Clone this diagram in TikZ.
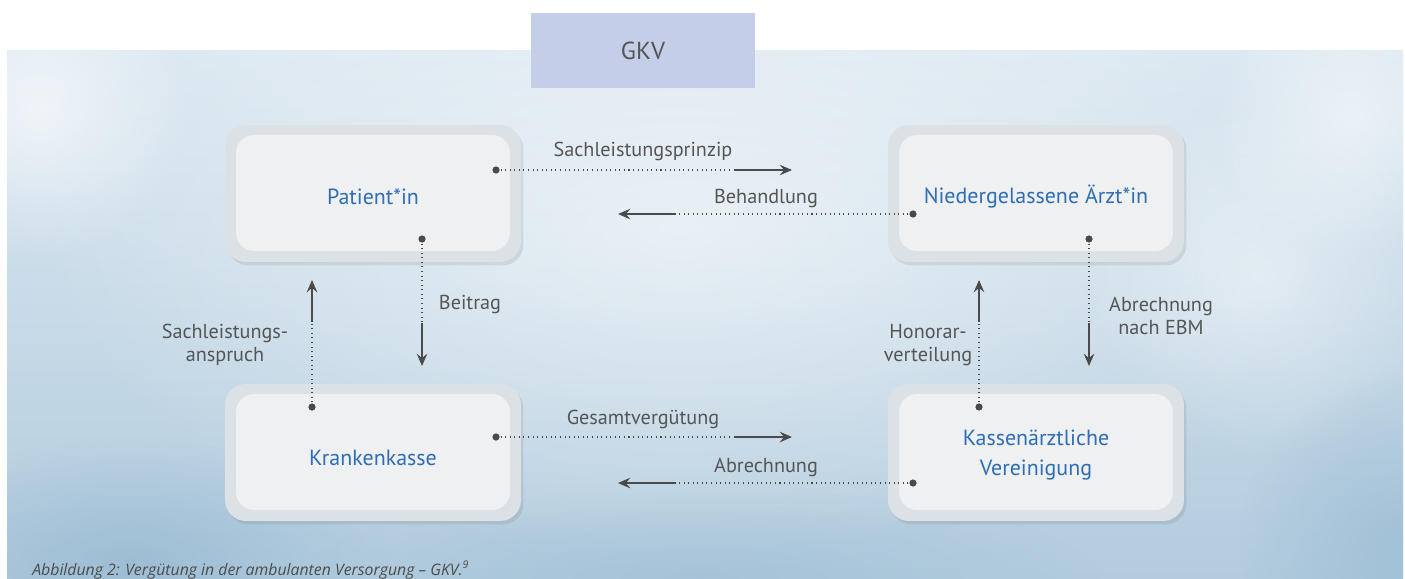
\documentclass[tikz,border=0pt]{standalone}
\usepackage{fontspec}
\setmainfont{PT Sans}
\newfontfamily\capfont{Open Sans}
\usetikzlibrary{arrows.meta,shadows,fadings}
\definecolor{bgtop}{HTML}{DCE8F1}
\definecolor{bgbot}{HTML}{B2CCDE}
\definecolor{gkvfill}{HTML}{C5CEE9}
\definecolor{outerbox}{HTML}{DCE1E6}
\definecolor{innerbox}{HTML}{EEF0F2}
\definecolor{nodeblue}{HTML}{2F6DB5}
\definecolor{labelgray}{HTML}{555555}
\definecolor{arrowgray}{HTML}{4A4A4A}
\definecolor{deepblue}{HTML}{8FB3CD}
\tikzfading[name=softglow, inner color=transparent!0, outer color=transparent!100]
\tikzset{
  outerrect/.style={draw=none, fill=outerbox, rounded corners=0.42cm,
     minimum width=5.92cm, minimum height=2.74cm, inner sep=0pt,
     drop shadow={shadow xshift=0.05cm, shadow yshift=-0.07cm, opacity=0.15, fill=black!60}},
  innerrect/.style={draw=none, fill=innerbox, rounded corners=0.36cm,
     minimum width=5.48cm, minimum height=2.32cm, inner sep=0pt},
  nodetext/.style={inner sep=0pt, font=\fontsize{12.5}{17}\selectfont, text=nodeblue, align=center},
  lbl/.style={font=\fontsize{11.5}{13}\selectfont, text=labelgray, align=center, inner sep=0pt},
  dotline/.style={draw=arrowgray, line width=0.6pt, dotted},
  solidarrow/.style={draw=arrowgray, line width=1.1pt, -{Stealth[length=7pt,width=6pt,inset=2.5pt]}},
  dotmark/.style={fill=arrowgray},
  glow/.style={path fading=softglow}
}
\begin{document}
\begin{tikzpicture}[x=0.02cm,y=-0.02cm]
\useasboundingbox (0,0) rectangle (1405,578);
% background
\fill[white] (0,0) rectangle (1405,578);
\shade[top color=bgtop, bottom color=bgbot] (7,50) rectangle (1403,578);
\begin{scope}
\clip (7,50) rectangle (1403,578);
\fill[white, opacity=0.55, glow] (680,230) ellipse (650 and 330);
\fill[white, opacity=0.6, glow] (40,110) circle (150);
\fill[white, opacity=0.45, glow] (1260,280) circle (180);
\fill[white, opacity=0.5, glow] (1350,120) circle (140);
\fill[deepblue, opacity=0.6, glow] (130,560) ellipse (260 and 120);
\fill[deepblue, opacity=0.5, glow] (1400,540) ellipse (160 and 170);
\fill[deepblue, opacity=0.35, glow] (700,578) ellipse (400 and 90);
\end{scope}
% GKV tab
\node[fill=gkvfill, minimum width=4.48cm, minimum height=1.5cm, inner sep=0pt,
      font=\fontsize{14}{16}\selectfont, text=labelgray] (gkv) at (643,50.5) {GKV};
% boxes
\node[outerrect] (pOut) at (373,193.5) {};
\node[innerrect] (pIn) at (373,193) {};
\node[nodetext] (pat) at (373,197) {Patient*in};
\node[outerrect] (aOut) at (1036,193.5) {};
\node[innerrect] (aIn) at (1036,193) {};
\node[nodetext] (arzt) at (1036,197) {Niedergelassene Ärzt*in};
\node[outerrect] (kOut) at (373,452.5) {};
\node[innerrect] (kIn) at (373,452) {};
\node[nodetext] (kk) at (373,458) {Krankenkasse};
\node[outerrect] (kvOut) at (1036,452.5) {};
\node[innerrect] (kvIn) at (1036,452) {};
\node[nodetext] (kv) at (1036,455) {Kassenärztliche\\Vereinigung};
% coordinates
\coordinate (d1) at (496,170); \coordinate (m1) at (735,170); \coordinate (e1) at (792,170);
\coordinate (d2) at (913,214); \coordinate (m2) at (676,214); \coordinate (e2) at (618,214);
\coordinate (d3) at (422,239); \coordinate (m3) at (422,323); \coordinate (e3) at (422,366);
\coordinate (d4) at (312,407); \coordinate (m4) at (312,322); \coordinate (e4) at (312,280);
\coordinate (d5) at (496,437); \coordinate (m5) at (735,437); \coordinate (e5) at (792,437);
\coordinate (d6) at (913,483); \coordinate (m6) at (676,483); \coordinate (e6) at (618,483);
\coordinate (d7) at (979,407); \coordinate (m7) at (979,322); \coordinate (e7) at (979,280);
\coordinate (d8) at (1089,239); \coordinate (m8) at (1089,323); \coordinate (e8) at (1089,366);
\foreach \i in {1,...,8}{
  \draw[dotline] (d\i) -- (m\i);
  \draw[solidarrow] (m\i) -- (e\i);
  \fill[dotmark] (d\i) circle (3.6);
}
% labels
\node[lbl] (l1) at (643,151) {Sachleistungsprinzip};
\node[lbl] (l2) at (766,198) {Behandlung};
\node[lbl] (l3) at (470,304) {Beitrag};
\node[lbl] (l4) at (225,345) {Sachleistungs-\\anspruch};
\node[lbl] (l5) at (643,419) {Gesamtvergütung};
\node[lbl] (l6) at (766,467) {Abrechnung};
\node[lbl] (l7) at (928,345) {Honorar-\\verteilung};
\node[lbl] (l8) at (1161,316) {Abrechnung\\nach EBM};
% caption
\node[anchor=base west, inner sep=0pt, font=\capfont\itshape\fontsize{9}{11}\selectfont, text=black!70] (cap) at (32,575) {Abbildung 2: Vergütung in der ambulanten Versorgung – GKV.\textsuperscript{9}};
\end{tikzpicture}
\end{document}
